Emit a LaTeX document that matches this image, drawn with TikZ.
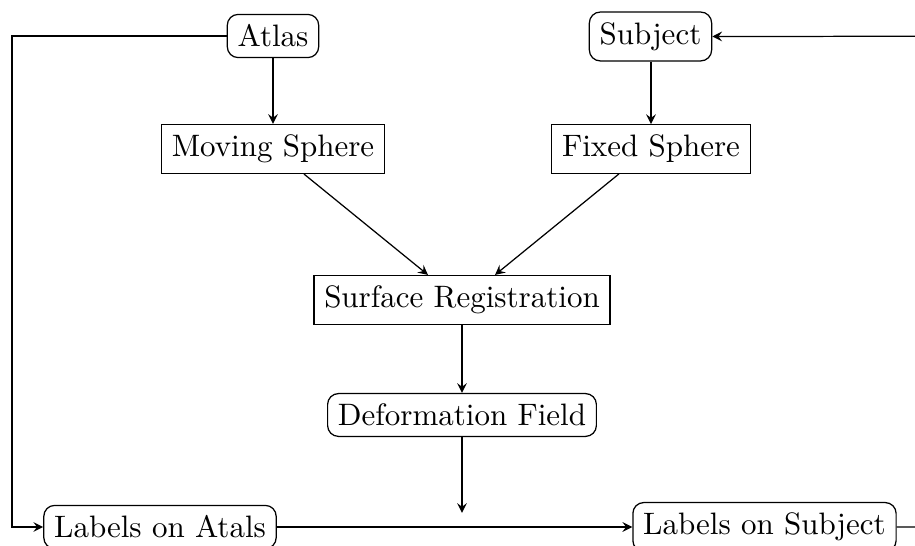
\documentclass[tikz,border=0pt]{standalone}
\usetikzlibrary{calc,arrows}
\begin{document}
\begin{tikzpicture}[x=0.3226pt,y=-0.3226pt,
  sq/.style={draw,rectangle,inner sep=3.33pt},
  rd/.style={draw,rectangle,rounded corners=3.5pt,inner sep=3.33pt},
  arr/.style={-stealth}]
\useasboundingbox (0,0) rectangle (915,546);
\node[rd] (atlas) at (273,36) {Atlas};
\node[rd] (subj) at (650.5,36.5) {Subject};
\node[sq] (ms) at (273,149) {Moving Sphere};
\node[sq] (fs) at (651,149) {Fixed Sphere};
\node[sq] (sr) at (462,300) {Surface Registration};
\node[rd] (df) at (462,415) {Deformation Field};
\node[rd] (loa) at (160,527) {Labels on Atals};
\node[rd] (los) at (764.5,527) {Labels on Subject};
\coordinate (lc) at (12,36);
\coordinate (rc) at (1200,36);
\coordinate (dfend) at (462,513);
\draw[arr] (atlas) -- (ms);
\draw[arr] (subj.south -| fs.north) -- (fs);
\draw[arr] ($(ms.south)+(31,0)$) -- ($(sr.north)+(-34,0)$);
\draw[arr] ($(fs.south)+(-32,0)$) -- ($(sr.north)+(33,0)$);
\draw[arr] (sr) -- (df);
\draw[arr] (df) -- (dfend);
\draw[arr] (atlas.west) -- (lc) |- (loa.west);
\draw[arr] (loa.east) -- (los.west);
\draw[arr] (los.east) -| (rc) -- (subj.east);
\end{tikzpicture}
\end{document}
